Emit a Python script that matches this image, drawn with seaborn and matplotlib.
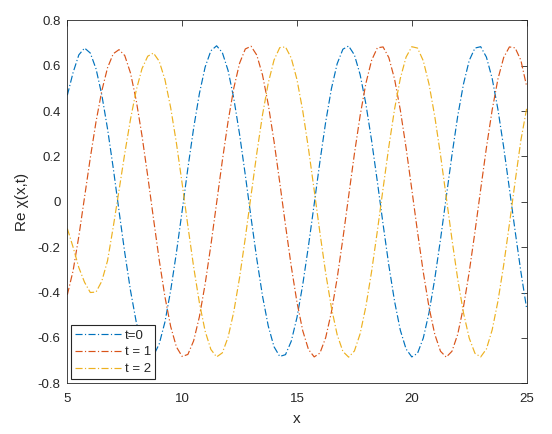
import numpy as np
import pandas as pd
import matplotlib
matplotlib.use("Agg")
import matplotlib.pyplot as plt
import seaborn as sns

# x grid (step 0.25) and Re chi(x,t)
x_vals = np.linspace(5, 25, 81)

re_t0 = [0.47, 0.570, 0.648, 0.678, 0.656, 0.586, 0.472, 0.322, 0.148, -0.040,
         -0.224, -0.391, -0.530, -0.627, -0.679, -0.679, -0.627, -0.530, -0.391, -0.224,
         -0.040, 0.149, 0.325, 0.477, 0.594, 0.666, 0.688, 0.658, 0.579, 0.455,
         0.298, 0.118, -0.070, -0.252, -0.416, -0.548, -0.639, -0.682, -0.674, -0.615,
         -0.510, -0.366, -0.195, -0.010, 0.178, 0.352, 0.499, 0.609, 0.673, 0.687,
         0.648, 0.561, 0.432, 0.270, 0.089, -0.099, -0.280, -0.439, -0.566, -0.649,
         -0.684, -0.668, -0.601, -0.489, -0.340, -0.166, 0.021, 0.207, 0.378, 0.519,
         0.623, 0.678, 0.684, 0.638, 0.544, 0.408, 0.242, 0.058, -0.129, -0.308,
         -0.47]

re_t1 = [-0.41, -0.304, -0.152, 0.021, 0.194, 0.354, 0.489, 0.591, 0.653, 0.671,
         0.645, 0.568, 0.447, 0.292, 0.114, -0.073, -0.256, -0.419, -0.550, -0.640,
         -0.682, -0.673, -0.613, -0.507, -0.363, -0.192, -0.005, 0.182, 0.355, 0.502,
         0.611, 0.674, 0.686, 0.647, 0.559, 0.429, 0.267, 0.085, -0.103, -0.284,
         -0.443, -0.568, -0.651, -0.684, -0.667, -0.599, -0.486, -0.337, -0.162, 0.025,
         0.211, 0.380, 0.522, 0.624, 0.679, 0.683, 0.636, 0.541, 0.405, 0.239,
         0.055, -0.133, -0.310, -0.465, -0.584, -0.659, -0.685, -0.659, -0.584, -0.464,
         -0.310, -0.133, 0.055, 0.239, 0.405, 0.541, 0.636, 0.683, 0.679, 0.624,
         0.51]

re_t2 = [-0.118, -0.20, -0.29, -0.355, -0.40, -0.398, -0.35, -0.26, -0.11, 0.05,
         0.213, 0.364, 0.492, 0.587, 0.642, 0.656, 0.620, 0.539, 0.415, 0.259,
         0.080, -0.107, -0.287, -0.445, -0.570, -0.651, -0.684, -0.666, -0.597, -0.484,
         -0.334, -0.159, 0.028, 0.214, 0.384, 0.524, 0.625, 0.680, 0.683, 0.634,
         0.539, 0.402, 0.235, 0.051, -0.137, -0.314, -0.467, -0.586, -0.660, -0.685,
         -0.658, -0.582, -0.462, -0.307, -0.129, 0.059, 0.243, 0.409, 0.544, 0.638,
         0.684, 0.678, 0.622, 0.519, 0.377, 0.207, 0.021, -0.166, -0.341, -0.489,
         -0.601, -0.668, -0.684, -0.649, -0.565, -0.439, -0.280, -0.099, 0.089, 0.271,
         0.41]

series_labels = ["t=0", "t = 1", "t = 2"]
line_colors = ["#0072BD", "#D95319", "#EDB120"]
x_ticks = [5, 10, 15, 20, 25]
y_ticks = [-0.8, -0.6, -0.4, -0.2, 0, 0.2, 0.4, 0.6, 0.8]
y_tick_labels = ["-0.8", "-0.6", "-0.4", "-0.2", "0", "0.2", "0.4", "0.6", "0.8"]

sns.set_style("white")
plt.rcParams["font.family"] = ["Liberation Sans", "DejaVu Sans"]

df = pd.DataFrame({
    "x": np.tile(x_vals, 3),
    "re": re_t0 + re_t1 + re_t2,
    "t": np.repeat(series_labels, len(x_vals)),
})

fig = plt.figure(figsize=(5.52, 4.34), dpi=100)
ax = fig.add_axes([0.122, 0.117, 0.832, 0.836])

sns.lineplot(data=df, x="x", y="re", hue="t", style="t",
             palette=line_colors, dashes=[(6, 2, 1, 2)] * 3,
             linewidth=0.85, ax=ax)

ax.set_xlim(5, 25)
ax.set_ylim(-0.8, 0.8)
ax.set_xticks(x_ticks)
ax.set_yticks(y_ticks)
ax.set_yticklabels(y_tick_labels)
ax.set_xlabel("x", fontsize=11, color="#262626", labelpad=5)
ax.set_ylabel("Re χ(x,t)", fontsize=11, color="#262626", labelpad=6)

for s in ax.spines.values():
    s.set_visible(True)
    s.set_color("#262626")
    s.set_linewidth(0.6)
ax.tick_params(direction="in", top=True, right=True, length=4, width=0.6,
               labelsize=9.5, colors="#262626")
ax.tick_params(axis="x", pad=7)
ax.tick_params(axis="y", pad=5)

leg = ax.legend(loc="lower left", fontsize=9.5, fancybox=False, framealpha=1,
                edgecolor="#262626", handlelength=3.6, borderaxespad=0.3,
                labelspacing=0.35, handletextpad=0.15, borderpad=0.3)
leg.get_frame().set_linewidth(0.8)

fig.savefig("out.png", dpi=100)
